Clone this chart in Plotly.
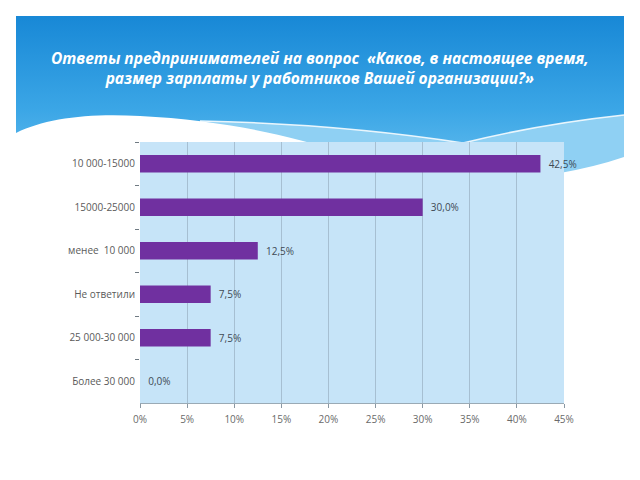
import base64
import plotly.graph_objects as go

# answers, listed top to bottom as on the slide
categories = ["10 000-15000", "15000-25000", "менее  10 000", "Не ответили", "25 000-30 000", "Более 30 000"]
shares = [42.5, 30.0, 12.5, 7.5, 7.5, 0.0]
x_ticks = [0, 5, 10, 15, 20, 25, 30, 35, 40, 45]
x_ticktext = [f"{v}%" for v in x_ticks]

title = ("Ответы предпринимателей на вопрос  «Каков, в настоящее время,<br>"
         "размер зарплаты у работников Вашей организации?»")

# page body has an 8px margin, so the figure is shifted by O
O = 8
W, H = 640 - O, 480 - O
L, R, T, B = 140 - O, 76, 142 - O, 77


def p(v):
    return v - O


# slide background: blue header with white waves (window pixel coords, shifted)
svg = f"""<svg xmlns="http://www.w3.org/2000/svg" width="{W}" height="{H}" viewBox="0 0 {W} {H}" preserveAspectRatio="none">
<defs><linearGradient id="g" x1="0" y1="0" x2="0" y2="1">
<stop offset="0" stop-color="#1888d6"/><stop offset="0.55" stop-color="#3ba6e6"/><stop offset="1" stop-color="#6cc2f0"/>
</linearGradient></defs>
<rect x="{p(16)}" y="{p(16)}" width="608" height="170" fill="url(#g)"/>
<path d="M{p(200)},{p(121)} Q{p(340)},{p(124)} {p(463)},{p(143)} Q{p(540)},{p(124)} {p(624)},{p(115)} L{p(624)},{p(186)} L{p(200)},{p(186)} Z" fill="#8fd0f3"/>
<path d="M{p(200)},{p(121)} Q{p(340)},{p(124)} {p(463)},{p(143)} Q{p(540)},{p(124)} {p(624)},{p(115)}" fill="none" stroke="#ffffff" stroke-width="1.5" opacity="0.85"/>
<path d="M{p(16)},{p(133)} C{p(45)},{p(118)} {p(90)},{p(113)} {p(140)},{p(116)} C{p(220)},{p(120)} {p(290)},{p(135)} {p(340)},{p(152)} L{p(340)},{H} L0,{H} L0,{p(133)} Z" fill="#ffffff"/>
<path d="M{p(555)},{p(174)} Q{p(595)},{p(167)} {p(624)},{p(157)} L{W},{p(157)} L{W},{H} L{p(555)},{H} Z" fill="#ffffff"/>
<rect x="0" y="{p(180)}" width="{W}" height="{H}" fill="#ffffff"/>
</svg>"""
src = "data:image/svg+xml;base64," + base64.b64encode(svg.encode("utf-8")).decode()

pw, ph = W - L - R, H - T - B

fig = go.Figure(go.Bar(
    x=shares, y=categories, orientation="h",
    width=0.4,
    marker=dict(color="#7030a0", line=dict(width=0)),
    texttemplate="\u00a0\u00a0%{x:.1f}%", textposition="outside",
    textfont=dict(family="Open Sans", size=10, color="#404a55"),
    cliponaxis=False,
))

fig.add_layout_image(
    source=src, xref="paper", yref="paper",
    x=-L / pw, y=(ph + T) / ph, sizex=W / pw, sizey=H / ph,
    xanchor="left", yanchor="top", sizing="stretch", layer="below",
)

# plot area fill (drawn above the background image)
fig.add_shape(type="rect", xref="paper", yref="paper", x0=0, x1=1, y0=0, y1=1,
              fillcolor="#c6e4f8", line=dict(width=0), layer="below")

fig.add_annotation(
    text=title, xref="paper", yref="paper",
    x=(p(320) - L) / pw, y=(H - B - p(68)) / ph, xanchor="center", yanchor="middle",
    showarrow=False, align="center",
    font=dict(family="Open Sans", size=15.5, color="white", weight="bold", style="italic"),
)

fig.update_layout(
    width=W, height=H,
    margin=dict(l=L, r=R, t=T, b=B, autoexpand=False),
    paper_bgcolor="white", plot_bgcolor="#c6e4f8",
    separators=", ",
    showlegend=False,
    xaxis=dict(
        range=[0, 45], tickvals=x_ticks, ticktext=x_ticktext,
        showgrid=True, gridcolor="#a6bfd2", gridwidth=1,
        showline=True, linecolor="#9aaab5", ticks="outside", ticklen=4, tickcolor="#8a98a3",
        tickfont=dict(family="Open Sans", size=10, color="#6a6a6a"),
        ticklabelstandoff=3,
        zeroline=False, fixedrange=True, automargin=False,
    ),
    yaxis=dict(
        autorange="reversed", tickson="boundaries", ticks="outside", ticklen=4,
        tickcolor="#6f7a82", tickwidth=1, showline=False, showgrid=False,
        tickfont=dict(family="Open Sans", size=10, color="#5a5a5a"),
        ticklabelstandoff=4, automargin=False,
    ),
)

fig.write_html("out.html")
